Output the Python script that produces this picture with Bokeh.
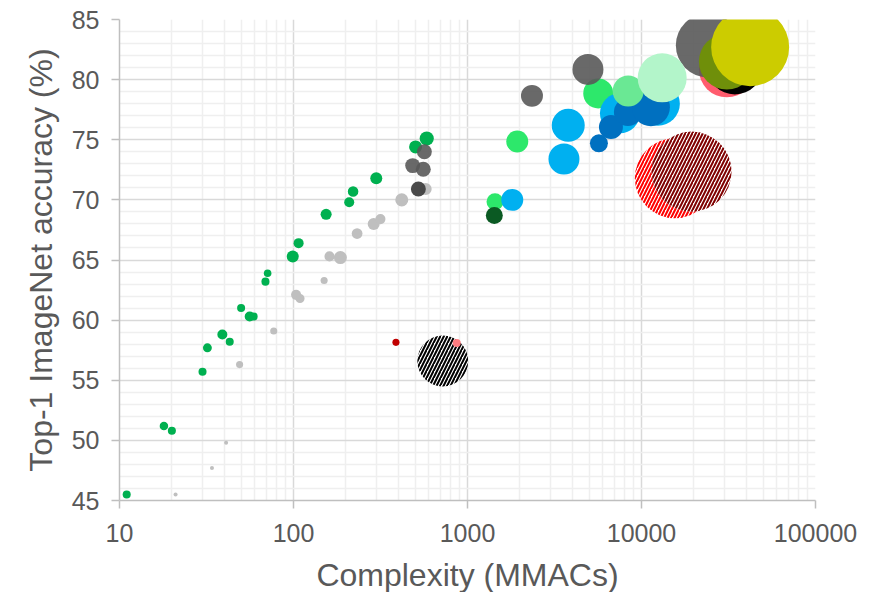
from bokeh.plotting import figure
from bokeh.models import Range1d, FixedTicker
from bokeh.embed import file_html
from bokeh.resources import INLINE
import math

# ---------------- data ----------------
# Each family: complexity (MMACs), top-1 accuracy (%), parameters (M) -> bubble area
lgray_macs = [21, 34, 41, 49, 77, 103.5, 109, 150, 161, 186, 232, 289, 316, 419, 575]
lgray_acc = [45.5, 47.7, 49.8, 56.3, 59.1, 62.1, 61.8, 63.3, 65.3, 65.2, 67.2, 68.0, 68.4, 70.0, 70.9]
lgray_par = [0.45, 0.45, 0.45, 1.4, 1.4, 2.8, 2.3, 1.4, 2.8, 4.7, 3.2, 4.0, 2.8, 4.7, 4.0]

green_macs = [11, 18, 20, 30, 32, 39, 43, 50, 56, 59, 69, 71, 99, 107, 154, 209, 220, 299, 503, 583]
green_acc = [45.5, 51.2, 50.8, 55.7, 57.7, 58.8, 58.2, 61.0, 60.3, 60.3, 63.2, 63.9, 65.3, 66.4, 68.8, 69.8, 70.7, 71.8, 74.4, 75.1]
green_par = [1.8, 2.0, 1.8, 1.8, 2.2, 2.8, 1.8, 1.8, 2.8, 1.8, 1.8, 1.6, 4.0, 2.8, 3.4, 2.8, 3.1, 4.0, 4.7, 5.6]

dgray_macs = [565, 484, 557, 2347, 4922, 24070]
dgray_acc = [74.0, 72.85, 72.55, 78.65, 80.85, 82.85]
dgray_par = [6.2, 6.2, 6.2, 13.4, 26.7, 114]

dkgray_macs = [522]
dkgray_acc = [70.9]
dkgray_par = [6.2]

bgreen_macs = [1439, 1932, 5641]
bgreen_acc = [69.85, 74.85, 78.85]
bgreen_par = [8.0, 13.4, 25.0]

dgreen_macs = [1426]
dgreen_acc = [68.7]
dgreen_par = [8.0]

lblue_macs = [1808, 3793, 3584, 7516, 12417]
lblue_acc = [70.0, 76.2, 73.4, 77.2, 78.0]
lblue_par = [13.4, 30.3, 26.7, 44.4, 53.8]

mblue_macs = [5691, 6673, 8352, 11324]
mblue_acc = [74.7, 76.05, 77.3, 77.7]
mblue_par = [9.0, 16.0, 21.8, 40.1]

mint_macs = [8385]
mint_acc = [79.05]
mint_par = [26.7]

lmint_macs = [13148]
lmint_acc = [80.15]
lmint_par = [66.7]

pink_macs = [30940]
pink_acc = [80.85]
pink_par = [87]

black_macs = [34400]
black_acc = [81.1]
black_par = [87]

olive_macs = [30940]
olive_acc = [81.5]
olive_par = [87]

yellow_macs = [42112]
yellow_acc = [82.7]
yellow_par = [169]

hred_macs = [15550]
hred_acc = [71.8]
hred_par = [178]

hdred_macs = [19400]
hdred_acc = [72.35]
hdred_par = [178]

hblack_macs = [721]
hblack_acc = [56.6]
hblack_par = [72]

rdot_macs = [388]
rdot_acc = [58.15]
rdot_par = [1.4]

pdot_macs = [867]
pdot_acc = [58.1]
pdot_par = [1.8]

x_ticks = [10, 100, 1000, 10000, 100000]
x_tick_labels = ["10", "100", "1000", "10000", "100000"]
y_ticks = [45, 50, 55, 60, 65, 70, 75, 80, 85]

# ---------------- figure ----------------
FONT = "Liberation Sans"
TXT = "#595959"

p = figure(x_axis_type="log", frame_width=696, frame_height=481,
           min_border_left=119, min_border_top=19, min_border_right=59, min_border_bottom=20,
           x_range=Range1d(10, 100000), y_range=Range1d(45, 85),
           output_backend="svg", toolbar_location=None)
p.outline_line_color = None
p.background_fill_color = "white"

x_minor = [m * 10 ** e for e in range(1, 5) for m in range(2, 10)]
y_minor = [v for v in range(45, 86) if v % 5 != 0]
p.xaxis.ticker = FixedTicker(ticks=x_ticks, minor_ticks=x_minor)
p.yaxis.ticker = FixedTicker(ticks=y_ticks, minor_ticks=y_minor)
p.xaxis.major_label_overrides = {t: l for t, l in zip(x_ticks, x_tick_labels)}

for ax in (p.xaxis[0], p.yaxis[0]):
    ax.axis_line_color = "#bfbfbf"
    ax.axis_line_width = 1.5
    ax.major_tick_line_color = "#bfbfbf"
    ax.major_tick_line_width = 1.5
    ax.major_tick_out = 8
    ax.major_tick_in = 0
    ax.minor_tick_out = 0
    ax.minor_tick_in = 0
    ax.major_label_text_font = FONT
    ax.major_label_text_font_size = "25px"
    ax.major_label_text_color = TXT
    ax.axis_label_text_font = FONT
    ax.axis_label_text_font_size = "32px"
    ax.axis_label_text_font_style = "normal"
    ax.axis_label_text_color = TXT

p.xaxis.major_label_standoff = 15
p.xaxis.axis_label_standoff = 12
p.yaxis.major_label_standoff = 12
p.yaxis.axis_label_standoff = 10

p.xaxis.axis_label = "Complexity (MMACs)"
p.yaxis.axis_label = "Top-1 ImageNet accuracy (%)"

for g in (p.xgrid[0], p.ygrid[0]):
    g.grid_line_color = "#d9d9d9"
    g.grid_line_width = 1.5
    g.minor_grid_line_color = "#efefef"
    g.minor_grid_line_width = 1.5


def sz(params):
    return [6.0 * math.sqrt(v) for v in params]


def bubbles(xs, ys, ps, color, alpha=1.0):
    p.scatter(xs, ys, size=sz(ps), marker="circle", fill_color=color,
              fill_alpha=alpha, line_color=None)


def hatched(xs, ys, ps, color):
    p.scatter(xs, ys, size=sz(ps), marker="circle", fill_color="white",
              line_color=None, hatch_pattern="/", hatch_color=color,
              hatch_weight=2.0, hatch_scale=7)


bubbles(lgray_macs, lgray_acc, lgray_par, "#bfbfbf")
bubbles(green_macs, green_acc, green_par, "#00b050")
bubbles(bgreen_macs, bgreen_acc, bgreen_par, "#2de86b")
bubbles(dgreen_macs, dgreen_acc, dgreen_par, "#0b5a23")
bubbles(lblue_macs, lblue_acc, lblue_par, "#00b0f0")
bubbles(mblue_macs, mblue_acc, mblue_par, "#0070c0")
bubbles(pink_macs, pink_acc, pink_par, "#ff5c6e")
bubbles(black_macs, black_acc, black_par, "#000000")
bubbles(dgray_macs, dgray_acc, dgray_par, "#595959", 0.9)
bubbles(dkgray_macs, dkgray_acc, dkgray_par, "#404040", 0.95)
bubbles(mint_macs, mint_acc, mint_par, "#6ae894")
bubbles(lmint_macs, lmint_acc, lmint_par, "#b3f5ca")
bubbles(olive_macs, olive_acc, olive_par, "#6f8f0a")
bubbles(yellow_macs, yellow_acc, yellow_par, "#cccc00")
hatched(hred_macs, hred_acc, hred_par, "#ff0000")
hatched(hdred_macs, hdred_acc, hdred_par, "#7f0000")
hatched(hblack_macs, hblack_acc, hblack_par, "#000000")
bubbles(rdot_macs, rdot_acc, rdot_par, "#c00000")
bubbles(pdot_macs, pdot_acc, pdot_par, "#ff7c80")

open("out.html", "w").write(file_html(p, INLINE))
